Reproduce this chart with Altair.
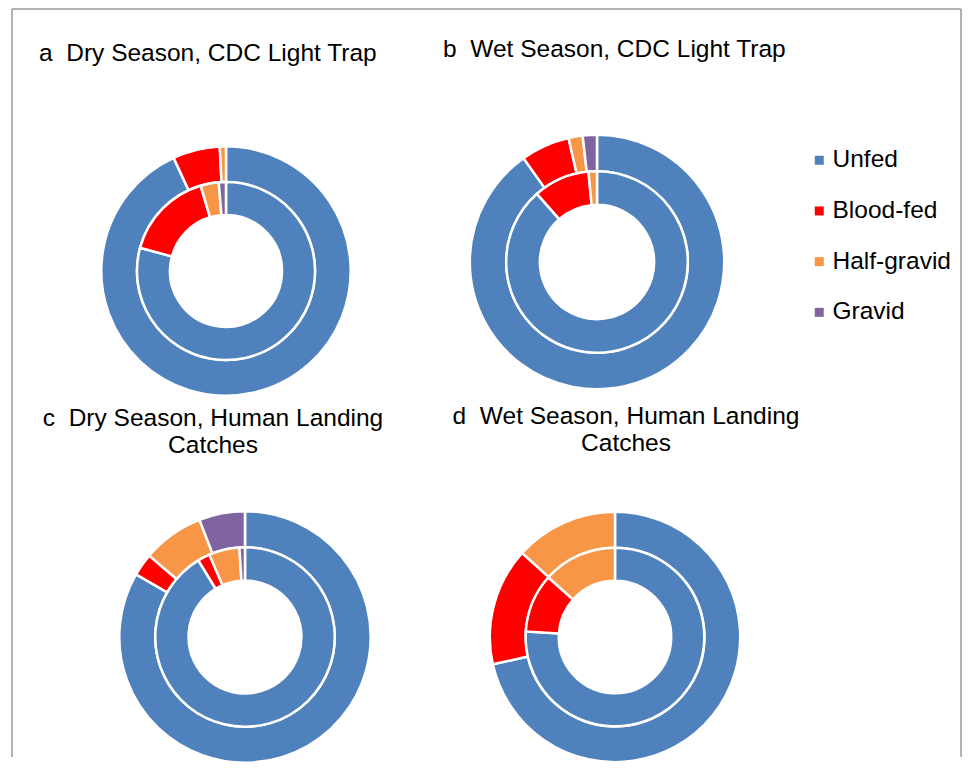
import altair as alt
import pandas as pd

stages = ["Unfed", "Blood-fed", "Half-gravid", "Gravid"]
colors = ["#4F81BD", "#FF0000", "#F79646", "#8064A2"]

# percentages per panel: outer ring / inner ring (Unfed, Blood-fed, Half-gravid, Gravid)
outer_a = [93.1, 6.1, 0.8, 0.0]
inner_a = [79.2, 16.2, 3.3, 1.3]
outer_b = [90.2, 6.2, 1.8, 1.8]
inner_b = [88.5, 10.0, 1.5, 0.0]
outer_c = [83.3, 2.9, 7.9, 5.9]
inner_c = [91.3, 2.2, 5.5, 1.0]
outer_d = [71.5, 15.2, 13.3, 0.0]
inner_d = [76.0, 10.6, 13.4, 0.0]

title_a = ["a\u00a0\u00a0Dry Season, CDC Light Trap"]
title_b = ["b\u00a0\u00a0Wet Season, CDC Light Trap"]
title_c = ["c\u00a0\u00a0Dry Season, Human Landing", "Catches"]
title_d = ["d\u00a0\u00a0Wet Season, Human Landing", "Catches"]

FONT = "Liberation Sans"
FS = 24.5


def ring_df(panel, ring, values):
    return pd.DataFrame({
        "panel": panel,
        "ring": ring,
        "stage": stages,
        "order": list(range(len(stages))),
        "value": values,
    })


df = pd.concat([
    ring_df("a", "outer", outer_a), ring_df("a", "inner", inner_a),
    ring_df("b", "outer", outer_b), ring_df("b", "inner", inner_b),
    ring_df("c", "outer", outer_c), ring_df("c", "inner", inner_c),
    ring_df("d", "outer", outer_d), ring_df("d", "inner", inner_d),
], ignore_index=True)

color = alt.Color(
    "stage:N",
    sort=stages,
    scale=alt.Scale(domain=stages, range=colors),
    legend=alt.Legend(
        title=None, orient="none", legendX=731, legendY=27,
        symbolType="square", symbolSize=81, symbolStrokeWidth=0,
        labelFont=FONT, labelFontSize=FS, labelColor="black",
        rowPadding=25.7, labelOffset=1, labelLimit=400,
    ),
)


def ring(panel, ring_name, r_out, r_in):
    return alt.Chart(df).transform_filter(
        (alt.datum.panel == panel) & (alt.datum.ring == ring_name) & (alt.datum.value > 0)
    ).mark_arc(radius=r_out, radius2=r_in, stroke="white", strokeWidth=2.5).encode(
        theta=alt.Theta("value:Q", stack=True),
        color=color,
        order=alt.Order("order:Q"),
    )


def donut(panel, R):
    k = R / 123.5
    return [ring(panel, "outer", R + 1.2, 89 * k), ring(panel, "inner", 89 * k, 56 * k)]


def title_params(text, anchor, dx, offset):
    return alt.TitleParams(
        text=text, anchor=anchor, frame="group", dx=dx, offset=offset,
        baseline="alphabetic", font=FONT, fontSize=FS, fontWeight="normal",
        color="black", lineHeight=27,
    )


border_color = "#9a9a9a"
one = alt.Data(values=[{}])
border_top = alt.Chart(one).mark_rule(stroke=border_color, strokeWidth=1.5).encode(
    x=alt.value(-64), x2=alt.value(885), y=alt.value(-112))
border_left = alt.Chart(one).mark_rule(stroke=border_color, strokeWidth=1.5).encode(
    x=alt.value(-64), y=alt.value(-112), y2=alt.value(636))
border_right = alt.Chart(one).mark_rule(stroke=border_color, strokeWidth=1.5).encode(
    x=alt.value(885), y=alt.value(-112), y2=alt.value(636))

pa = alt.layer(border_top, border_left, border_right, *donut("a", 123.5)).resolve_scale(
    theta="independent").properties(
    width=300, height=300, title=title_params(title_a, "start", -37, -76.75))
pb = alt.layer(*donut("b", 126)).resolve_scale(theta="independent").properties(
    width=302, height=282, title=title_params(title_b, "start", -3, 40))
pc = alt.layer(*donut("c", 124.5)).resolve_scale(theta="independent").properties(
    width=338, height=300, title=title_params(title_c, "middle", -32, 10))
pd_ = alt.layer(*donut("d", 124)).resolve_scale(theta="independent").properties(
    width=338, height=300, title=title_params(title_d, "middle", 11, 12))

chart = alt.concat(
    pa, pb, pc, pd_, columns=2, bounds="flush",
    spacing={"row": 66, "column": 32},
).properties(
    padding={"left": 3, "top": 0, "right": 0, "bottom": 0},
    background="white",
).configure_view(stroke=None)

chart.save("out.html", embed_options={"renderer": "svg", "actions": False})
